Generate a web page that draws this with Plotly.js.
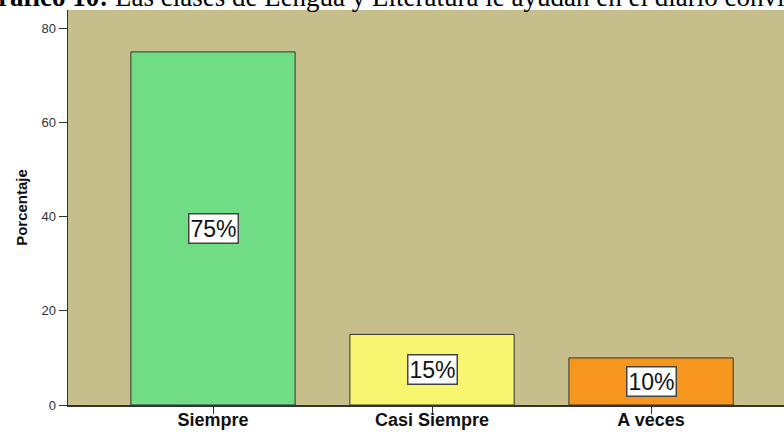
<!DOCTYPE html>
<html>
<head>
<meta charset="utf-8">
<script src="https://cdn.plot.ly/plotly-3.0.1.min.js"></script>
<style>html,body{margin:0;padding:0;background:#fff;}#chart{width:784px;height:432px;}</style>
</head>
<body>
<div id="chart"></div>
<script>
const categories = ["Siempre", "Casi Siempre", "A veces"];
const percentages = [75, 15, 10];
const barColors = ["#70dc85", "#f8f56f", "#f7961d"];
const yTickValues = [0, 20, 40, 60, 80];
const titleBold = "Gráfico 10:";
const titleRest = " Las clases de Lengua y Literatura le ayudan en el diario convivir";
const yTitle = "Porcentaje";

const trace = {
  type: "bar",
  x: categories,
  y: percentages,
  width: 0.75,
  marker: { color: barColors, line: { color: "#333333", width: 1 } },
  hoverinfo: "none"
};

const valueLabels = categories.map((c, i) => ({
  x: c, y: percentages[i] / 2, xref: "x", yref: "y",
  text: percentages[i] + "%", showarrow: false,
  font: { family: "Liberation Sans, Arial, sans-serif", size: 23, color: "#111" },
  bgcolor: "#ffffff", bordercolor: "#444444", borderwidth: 1.5, borderpad: 1
}));

const titleAnn = {
  xref: "paper", yref: "paper", x: -0.13, y: 1.033, xanchor: "left", yanchor: "middle",
  text: "<b>" + titleBold + "</b>" + titleRest, showarrow: false,
  font: { family: "Liberation Serif, Times New Roman, serif", size: 27, color: "#000" }
};

const layout = {
  width: 784, height: 432,
  margin: { l: 68, r: 0, t: 10, b: 27, pad: 0 },
  paper_bgcolor: "#ffffff",
  plot_bgcolor: "#c6bf8c",
  showlegend: false,
  xaxis: {
    range: [-0.662, 2.607],
    showline: true, linecolor: "#333333", linewidth: 1.5,
    ticks: "outside", ticklen: 7, tickcolor: "#333333", tickwidth: 1,
    ticklabelstandoff: -9,
    tickfont: { family: "Liberation Sans, Arial, sans-serif", size: 18, color: "#111", weight: "bold" },
    showgrid: false, zeroline: false, fixedrange: true
  },
  yaxis: {
    range: [0, 83.9],
    tickvals: yTickValues,
    showline: true, linecolor: "#333333", linewidth: 1.5,
    ticks: "outside", ticklen: 8, tickcolor: "#333333", tickwidth: 1,
    tickfont: { family: "Liberation Sans, Arial, sans-serif", size: 13, color: "#333" },
    showgrid: false, zeroline: false, fixedrange: true,
    title: { text: "<b>" + yTitle + "</b>", standoff: 10,
      font: { family: "Liberation Sans, Arial, sans-serif", size: 15, color: "#111" } }
  },
  annotations: [titleAnn].concat(valueLabels)
};

Plotly.newPlot("chart", [trace], layout, { displayModeBar: false, staticPlot: true });
</script>
</body>
</html>
